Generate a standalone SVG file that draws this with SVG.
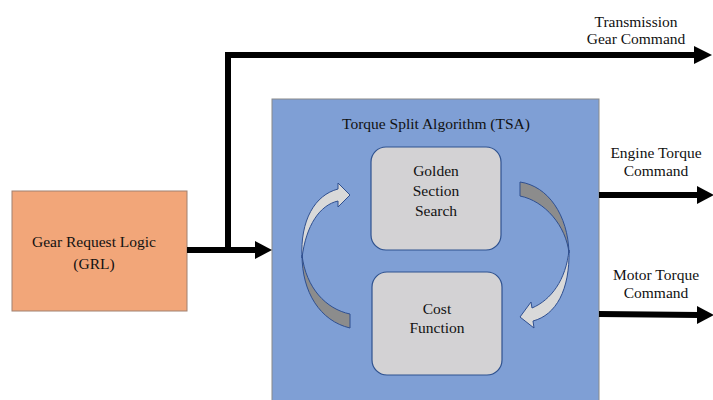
<svg xmlns="http://www.w3.org/2000/svg" width="713" height="400" viewBox="0 0 713 400">
<style>
.t{font-family:'Liberation Serif','Times New Roman',Times,serif;font-size:15.5px;fill:#111;text-anchor:middle}
.ln{stroke:#000;stroke-width:6;fill:none}
.ah{fill:#000}
.inner{fill:#d3d2d4;stroke:#2f528f;stroke-width:1.2}
.lt{fill:#d9d9d9;stroke:#2f4f8f;stroke-width:1}
.dk{fill:#8c8c8c;stroke:#2f4f8f;stroke-width:1}
</style>
<rect width="713" height="400" fill="#fff"/>
<g id="grl">
<rect x="12" y="191" width="175" height="120" fill="#f2a679" stroke="#a08070" stroke-width="1"/>
<text class="t" font-family="Liberation Serif" x="94" y="247">Gear Request Logic</text>
<text class="t" font-family="Liberation Serif" x="94" y="269">(GRL)</text>
</g>
<g id="tsa">
<rect x="272" y="99" width="327" height="305" fill="#7f9fd5" stroke="#8a8a8a" stroke-width="1"/>
<text class="t" x="436" y="129">Torque Split Algorithm (TSA)</text>
</g>
<g id="gss">
<rect x="371" y="147" width="130" height="103" rx="15" class="inner"/>
<text class="t" x="436" y="176">Golden</text>
<text class="t" x="436" y="196">Section</text>
<text class="t" x="436" y="216">Search</text>
</g>
<g id="cost">
<rect x="372" y="272" width="130" height="103" rx="15" class="inner"/>
<text class="t" x="437" y="314">Cost</text>
<text class="t" x="437" y="333">Function</text>
</g>
<g id="loop-arrows">
<path class="dk" d="M302,255 C302,292 320,321 350,328 L350,314 C326,309 306,288 302,255 Z"/>
<path class="lt" d="M302,258 C300,220 315,195 338,189 L338,183 L350,195 L338,207 L338,201 C320,205 306,225 302,258 Z"/>
<path class="dk" d="M520,182 C548,186 568,215 569,253 C566,226 545,201 520,196 Z"/>
<path class="lt" d="M569,250 C570,290 556,315 533,321 L534,328 L520,317 L531,302 L532,308 C551,300 566,280 569,250 Z"/>
</g>
<g id="connectors">
<line class="ln" x1="187" y1="250" x2="256" y2="250"/>
<polygon class="ah" points="255,241 272,250 255,259"/>
<polyline class="ln" points="228,250 228,55 696,55"/>
<polygon class="ah" points="694,46 712,55 694,64"/>
<line class="ln" x1="599" y1="195" x2="699" y2="195"/>
<polygon class="ah" points="697,186 714,195 697,204"/>
<line class="ln" x1="599" y1="314" x2="699" y2="315"/>
<polygon class="ah" points="697,306 714,315 697,324"/>
</g>
<g id="labels">
<text class="t" x="636" y="27">Transmission</text>
<text class="t" x="636" y="44">Gear Command</text>
<text class="t" x="656" y="158">Engine Torque</text>
<text class="t" x="656" y="176">Command</text>
<text class="t" x="656" y="280">Motor Torque</text>
<text class="t" x="656" y="298">Command</text>
</g>
</svg>
